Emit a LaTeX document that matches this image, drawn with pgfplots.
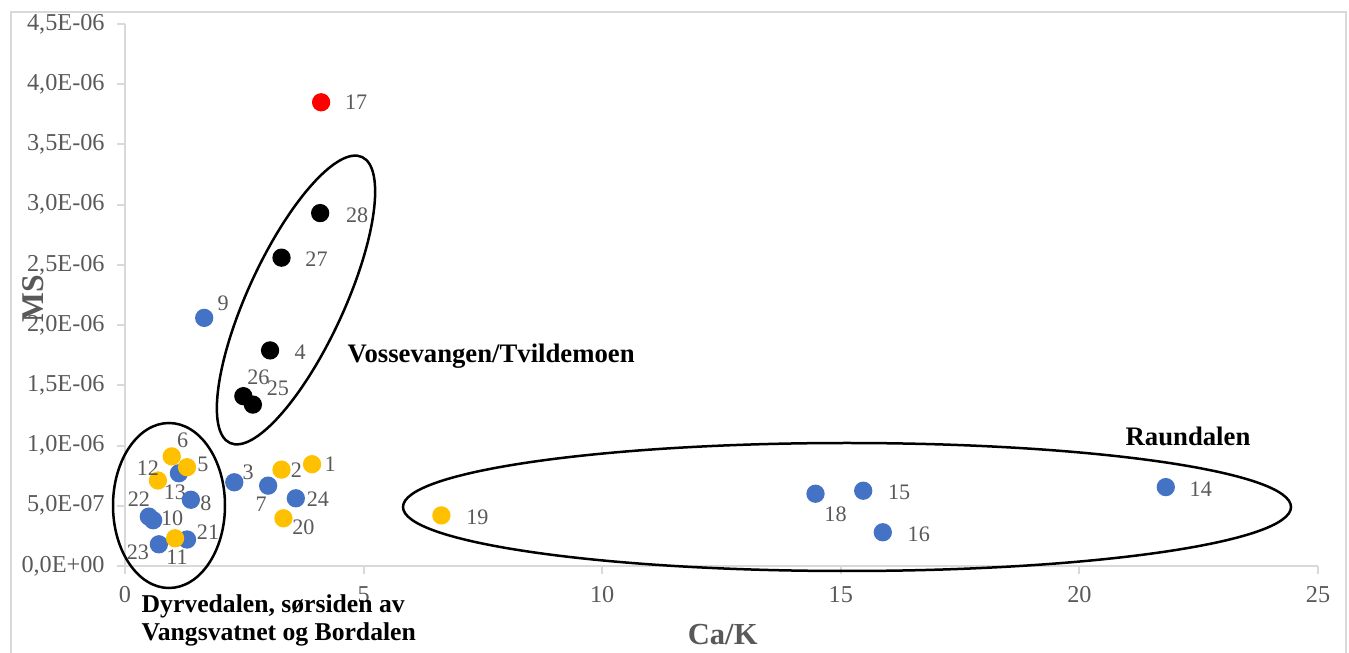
\documentclass[border=0pt]{standalone}
\usepackage{pgfplots}
\pgfplotsset{compat=1.18}
\usepackage{fontspec}
\setmainfont{Liberation Serif}

\definecolor{xblue}{HTML}{4472C4}
\definecolor{xyellow}{HTML}{FFC000}
\definecolor{xred}{HTML}{FF0000}
\definecolor{xgrid}{HTML}{D9D9D9}
\definecolor{xtext}{HTML}{595959}

% columns: x, y, label, label offset dx/dy in px (1px = 0.01cm)
\pgfplotstableread{
x      y        lab dx  dy
2.29   0.695e-6 3   14  10
3.00   0.667e-6 7   -7  -19
3.58   0.562e-6 24  22  -1
1.13   0.77e-6  13  -4  -19
1.38   0.55e-6  8   15  -3
0.50   0.41e-6  22  -10 17
0.59   0.38e-6  10  19  2
0.71   0.18e-6  23  -21 -8
1.30   0.22e-6  21  21  7
1.66   2.06e-6  9   19  15
14.47  0.60e-6  18  20  -21
15.47  0.625e-6 15  36  -2
15.88  0.28e-6  16  36  -2
21.81  0.655e-6 14  35  -2
}\blue

\pgfplotstableread{
x      y        lab dx  dy
3.92   0.845e-6 1   18  0
3.28   0.80e-6  2   15  -1
3.32   0.396e-6 20  20  -9
0.98   0.91e-6  6   11  16
1.30   0.82e-6  5   16  3
0.69   0.71e-6  12  -10 12
1.05   0.23e-6  11  2   -19
6.63   0.42e-6  19  36  -2
}\yellow

\pgfplotstableread{
x      y        lab dx  dy
4.09   2.93e-6  28  37  -2
3.28   2.56e-6  27  35  -2
3.04   1.79e-6  4   30  -2
2.48   1.41e-6  26  15  19
2.68   1.34e-6  25  25  16
}\black

\pgfplotstableread{
x      y        lab dx  dy
4.11   3.85e-6  17  35  0
}\red

\begin{document}
\begin{tikzpicture}
\path[use as bounding box] (-1.25,-0.87) rectangle (12.24,5.66);
% chart frame
\draw[xgrid, line width=0.02cm] (-1.14,-1.2) -- (-1.14,5.54) -- (12.21,5.54) -- (12.21,-1.2);

\begin{axis}[
    scale only axis,
    width=11.93cm, height=5.42cm,
    xmin=0, xmax=25, ymin=0, ymax=4.5e-6,
    axis x line*=bottom, axis y line*=left,
    axis line style={xgrid, line width=0.02cm},
    tick style={xgrid, line width=0.02cm},
    tick align=outside,
    major tick length=0.08cm,
    xtick={0,5,10,15,20,25},
    ytick={0,0.5e-6,1e-6,1.5e-6,2e-6,2.5e-6,3e-6,3.5e-6,4e-6,4.5e-6},
    yticklabels={{0,0E+00},{5,0E-07},{1,0E-06},{1,5E-06},{2,0E-06},{2,5E-06},{3,0E-06},{3,5E-06},{4,0E-06},{4,5E-06}},
    scaled y ticks=false,
    ticklabel style={font=\fontsize{6.9}{8}\selectfont, text=xtext},
    /pgf/number format/assume math mode=true,
    xlabel={Ca/K},
    ylabel={MS},
    xlabel style={at={(rel axis cs:0.501,-0.1273)}, anchor=center,
        font=\fontsize{8.7}{10}\selectfont\bfseries, text=xtext},
    ylabel style={at={(rel axis cs:-0.0771,0.4926)}, anchor=center,
        font=\fontsize{9}{11}\selectfont\bfseries, text=xtext},
    clip=false,
    only marks,
    mark=*,
    mark size=2.4pt,
    point meta=explicit symbolic,
    nodes near coords,
    visualization depends on={\thisrow{dx} \as \dx},
    visualization depends on={\thisrow{dy} \as \dy},
    nodes near coords style={anchor=center, inner sep=0pt,
        xshift={(\dx)*0.01cm}, yshift={(\dy)*0.01cm},
        font=\fontsize{6.3}{7}\selectfont, text=xtext},
]
\addplot[color=xblue, mark options={draw=xblue, fill=xblue}] table[x=x, y=y, meta=lab] {\blue};
\addplot[color=xyellow, mark options={draw=xyellow, fill=xyellow}] table[x=x, y=y, meta=lab] {\yellow};
\addplot[color=black, mark options={draw=black, fill=black}] table[x=x, y=y, meta=lab] {\black};
\addplot[color=xred, mark options={draw=xred, fill=xred}] table[x=x, y=y, meta=lab] {\red};
\end{axis}

% group outlines (1px = 0.01cm, origin at axis lower-left)
\draw[black, line width=0.025cm] (0.44,0.605) ellipse [x radius=0.56cm, y radius=0.825cm];
\draw[black, line width=0.025cm, rotate around={65.2:(1.71,2.66)}] (1.71,2.66) ellipse [x radius=1.575cm, y radius=0.48cm];
\draw[black, line width=0.025cm] (7.22,0.59) ellipse [x radius=4.44cm, y radius=0.64cm];

\node[anchor=west, inner sep=0pt, font=\fontsize{7.6}{9}\selectfont\bfseries] at (2.22,2.10) {Vossevangen/Tvildemoen};
\node[anchor=center, inner sep=0pt, font=\fontsize{7.6}{9}\selectfont\bfseries] at (10.63,1.30) {Raundalen};
\node[anchor=north west, inner sep=0pt, align=left, font=\fontsize{7.3}{8.1}\selectfont\bfseries] at (0.16,-0.28) {Dyrvedalen, sørsiden av\\Vangsvatnet og Bordalen};
\end{tikzpicture}
\end{document}
